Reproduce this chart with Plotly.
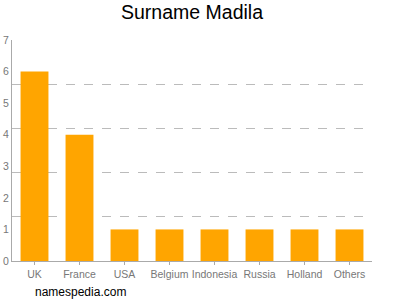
import plotly.graph_objects as go

categories = ["UK", "France", "USA", "Belgium", "Indonesia", "Russia", "Holland", "Others"]
values = [6, 4, 1, 1, 1, 1, 1, 1]
y_ticks = [0, 1, 2, 3, 4, 5, 6, 7]
grid_vals = [1.4, 2.8, 4.2, 5.6, 7]

fig = go.Figure()
fig.add_trace(go.Bar(x=categories, y=values, marker=dict(color="#FFA500", line=dict(width=0)),
                     hoverinfo="skip"))
# invisible trace on overlay axis for dashed grid
fig.add_trace(go.Scatter(x=categories, y=values, yaxis="y2", mode="markers",
                         marker=dict(opacity=0), hoverinfo="skip", showlegend=False))

fig.update_layout(
    width=400, height=300,
    margin=dict(l=12, r=28, t=40, b=39),
    paper_bgcolor="white", plot_bgcolor="white",
    showlegend=False,
    bargap=0.38,
    title=dict(text="Surname Madila", x=0.5, xanchor="center", xref="paper", y=0.96, yanchor="middle",
               font=dict(family="Liberation Sans, Arial", size=19.5, color="black")),
    font=dict(family="Liberation Sans, Arial", size=10.5, color="#777777"),
    xaxis=dict(showline=True, linecolor="#aaaaaa", linewidth=1, ticks="outside", ticklen=3,
               tickcolor="#aaaaaa", showgrid=False, tickangle=0, automargin=False,
               tickfont=dict(size=10.5, color="#777777")),
    yaxis=dict(range=[0, 7], tickvals=y_ticks, showline=True, linecolor="#aaaaaa", linewidth=1,
               showgrid=False, zeroline=False, ticks="", automargin=False,
               tickfont=dict(size=10.5, color="#777777")),
    yaxis2=dict(range=[0, 7], overlaying="y", tickmode="array", tickvals=grid_vals, showgrid=True,
                gridcolor="#bbbbbb", griddash="dash", gridwidth=1, showticklabels=False,
                zeroline=False, layer="below traces", automargin=False),
    annotations=[dict(text="namespedia.com", xref="paper", yref="paper", x=0, y=-0.14,
                      xanchor="left", yanchor="middle", showarrow=False, xshift=21,
                      font=dict(family="Liberation Sans, Arial", size=12, color="black"))],
)
fig.write_html("out.html")
